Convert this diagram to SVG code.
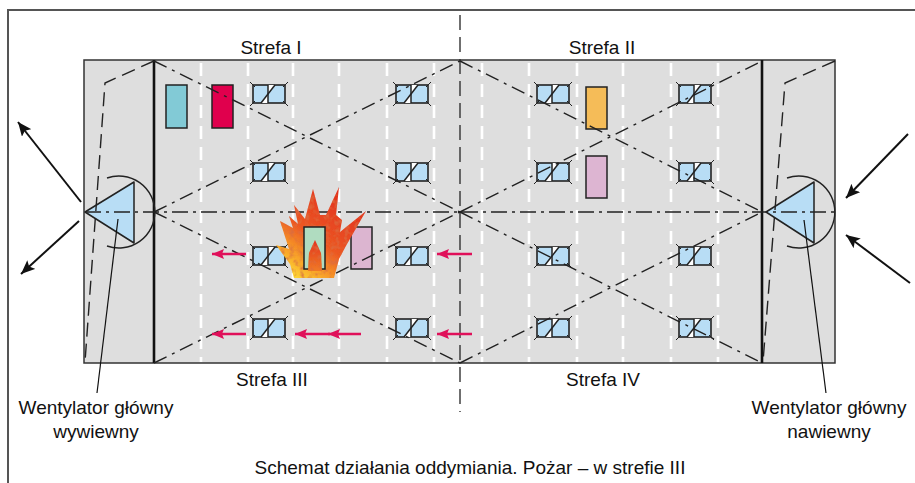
<svg xmlns="http://www.w3.org/2000/svg" width="915" height="483" viewBox="0 0 915 483">
  <style>
    .lbl { font-family: "Liberation Sans", Arial, sans-serif; font-size: 19px; fill: #111; text-anchor: middle; }
    .frame { fill: none; stroke: #555; stroke-width: 2; }
    .hall { fill: #dedede; stroke: #333; stroke-width: 1.5; }
    .wall { stroke: #111; stroke-width: 2.6; }
    .grid { stroke: #fff; stroke-width: 2.6; stroke-dasharray: 13 8; }
    .axis { fill: none; stroke: #222; stroke-width: 1.4; stroke-dasharray: 16 5 3 5; }
    .diag { fill: none; stroke: #222; stroke-width: 1.4; stroke-dasharray: 14 6 3 6; }
    .mid { stroke: #333; stroke-width: 1.4; stroke-dasharray: 15 7; }
    .duct { fill: none; stroke: #222; stroke-width: 1.4; stroke-dasharray: 14 7; }
    .fan { fill: #b8ddf5; stroke: #222; stroke-width: 1.5; stroke-linejoin: round; }
    .arc { fill: none; stroke: #222; stroke-width: 1.4; }
    .lead { stroke: #111; stroke-width: 1.2; }
    .flow { stroke: #111; stroke-width: 2; marker-end: url(#ah); }
    .smoke { stroke: #e0105a; stroke-width: 2.4; }
    .box { stroke: #222; stroke-width: 1.5; }
  </style>
  <defs>
    <marker id="ah" markerUnits="userSpaceOnUse" markerWidth="16" markerHeight="12" refX="14" refY="6" orient="auto">
      <path d="M0,0 L14,6 L0,12 L3,6 z" fill="#111"/>
    </marker>
    <marker id="rh" markerUnits="userSpaceOnUse" markerWidth="14" markerHeight="12" refX="12" refY="5" orient="auto">
      <path d="M0,0 L12,5 L0,10 L2,5 z" fill="#e0105a"/>
    </marker>
    <linearGradient id="flame" x1="0.1" y1="1" x2="0.75" y2="0.1">
      <stop offset="0" stop-color="#ffe83a"/>
      <stop offset="0.22" stop-color="#f9a82a"/>
      <stop offset="0.5" stop-color="#ec5824"/>
      <stop offset="1" stop-color="#e2301e"/>
    </linearGradient>
    <linearGradient id="flame2" x1="0" y1="1" x2="0" y2="0">
      <stop offset="0" stop-color="#f07a26"/>
      <stop offset="1" stop-color="#e23420"/>
    </linearGradient>
    <!-- mottled burn texture inside the flame -->
    <filter id="mottle" x="0" y="0" width="1" height="1">
      <feTurbulence type="fractalNoise" baseFrequency="0.2" numOctaves="2" seed="4" result="n"/>
      <feColorMatrix in="n" type="matrix" values="0 0 0 0 0.7  0 0 0 0 0.15  0 0 0 0 0.05  0 0 0 2.2 -1.0" result="spots"/>
      <feComposite in="spots" in2="SourceAlpha" operator="in" result="clip"/>
      <feMerge><feMergeNode in="SourceGraphic"/><feMergeNode in="clip"/></feMerge>
    </filter>
    <!-- ceiling damper: blue panel with bow-tie flap and corner ticks -->
    <g id="vent">
      <rect x="0" y="0" width="32" height="18" fill="#b8ddf5" stroke="#222" stroke-width="1.6"/>
      <polygon points="8,18 15,18 15,9" fill="#fff"/>
      <polygon points="15,9 15,0 22,0" fill="#fff"/>
      <line x1="15" y1="0" x2="15" y2="18" stroke="#222" stroke-width="1.5"/>
      <line x1="8" y1="18" x2="22" y2="0" stroke="#222" stroke-width="1.5"/>
      <g stroke="#222" stroke-width="1">
        <line x1="-3" y1="-3" x2="2" y2="2"/>
        <line x1="35" y1="-3" x2="30" y2="2"/>
        <line x1="-3" y1="21" x2="2" y2="16"/>
        <line x1="35" y1="21" x2="30" y2="16"/>
      </g>
    </g>
  </defs>

  <!-- page frame -->
  <polyline class="frame" points="8,483 8,10 915,10"/>

  <!-- hall floor plan -->
  <g id="hall">
    <rect class="hall" x="84" y="60" width="751" height="303"/>
    <g id="grid">
      <line class="grid" x1="201" y1="63" x2="201" y2="362"/>
      <line class="grid" x1="248" y1="63" x2="248" y2="362"/>
      <line class="grid" x1="293" y1="63" x2="293" y2="362"/>
      <line class="grid" x1="339" y1="63" x2="339" y2="362"/>
      <line class="grid" x1="387" y1="63" x2="387" y2="362"/>
      <line class="grid" x1="434" y1="63" x2="434" y2="362"/>
      <line class="grid" x1="482" y1="63" x2="482" y2="362"/>
      <line class="grid" x1="529" y1="63" x2="529" y2="362"/>
      <line class="grid" x1="577" y1="63" x2="577" y2="362"/>
      <line class="grid" x1="623" y1="63" x2="623" y2="362"/>
      <line class="grid" x1="671" y1="63" x2="671" y2="362"/>
      <line class="grid" x1="718" y1="63" x2="718" y2="362"/>
    </g>
    <line class="wall" x1="154" y1="60" x2="154" y2="363"/>
    <line class="wall" x1="762" y1="60" x2="762" y2="363"/>
  </g>

  <!-- smoke dampers -->
  <g id="dampers">
    <use href="#vent" x="253" y="85"/>
    <use href="#vent" x="396" y="85"/>
    <use href="#vent" x="537" y="85"/>
    <use href="#vent" x="679" y="85"/>
    <use href="#vent" x="253" y="163"/>
    <use href="#vent" x="396" y="163"/>
    <use href="#vent" x="537" y="163"/>
    <use href="#vent" x="679" y="163"/>
    <use href="#vent" x="253" y="247"/>
    <use href="#vent" x="396" y="247"/>
    <use href="#vent" x="537" y="247"/>
    <use href="#vent" x="679" y="247"/>
    <use href="#vent" x="253" y="319"/>
    <use href="#vent" x="396" y="319"/>
    <use href="#vent" x="537" y="319"/>
    <use href="#vent" x="679" y="319"/>
  </g>

  <!-- equipment -->
  <g id="equipment">
    <rect class="box" x="166" y="85" width="21" height="43" fill="#82cad6"/>
    <rect class="box" x="212" y="85" width="21" height="43" fill="#e0004d"/>
    <rect class="box" x="586" y="87" width="21" height="42" fill="#f5bc58"/>
    <rect class="box" x="586" y="156" width="21" height="42" fill="#ddb5d2"/>
    <rect class="box" x="351" y="227" width="21" height="42" fill="#dcb5d0"/>
  </g>

  <!-- main fans -->
  <g id="fan-exhaust">
    <path class="arc" d="M107,178 A36,36 0 1 1 107,246"/>
    <polygon class="fan" points="85,212 134,182 134,243"/>
  </g>
  <g id="fan-supply">
    <path class="arc" d="M787,178 A36,36 0 1 1 787,246"/>
    <polygon class="fan" points="766,212 814,182 814,243"/>
  </g>

  <!-- connectors -->
  <g id="connectors">
    <!-- ducts to the fans -->
    <polyline class="duct" points="154,61 105,83 85,362"/>
    <polyline class="duct" points="835,61 785,83 763,362"/>
    <!-- zone axes -->
    <line class="mid" x1="460" y1="15" x2="460" y2="412"/>
    <line class="axis" x1="85" y1="212" x2="835" y2="212"/>
    <!-- zone diagonals -->
    <line class="diag" x1="154" y1="61" x2="460" y2="212"/>
    <line class="diag" x1="154" y1="212" x2="460" y2="61"/>
    <line class="diag" x1="154" y1="212" x2="460" y2="363"/>
    <line class="diag" x1="154" y1="363" x2="460" y2="212"/>
    <line class="diag" x1="460" y1="61" x2="762" y2="212"/>
    <line class="diag" x1="460" y1="212" x2="762" y2="61"/>
    <line class="diag" x1="460" y1="212" x2="762" y2="363"/>
    <line class="diag" x1="460" y1="363" x2="762" y2="212"/>
    <!-- air flow at the fans -->
    <line class="flow" x1="81" y1="202" x2="18" y2="122"/>
    <line class="flow" x1="79" y1="221" x2="21" y2="274"/>
    <line class="flow" x1="908" y1="134" x2="846" y2="198"/>
    <line class="flow" x1="910" y1="283" x2="846" y2="235"/>
    <!-- leader lines -->
    <line class="lead" x1="118" y1="219" x2="97" y2="393"/>
    <line class="lead" x1="804" y1="220" x2="826" y2="393"/>
  </g>

  <!-- fire in zone III -->
  <g id="fire">
    <polygon fill="url(#flame)" filter="url(#mottle)" points="294,278 290,264 276,245 289,249 280,221 293,228 289,216 298,224 294,205 305,219 313,189 320,215 326,215 339,187 336,215 342,220 340,232 366,211 347,244 339,259 334,278"/>
    <rect class="box" x="304" y="227" width="21" height="42" fill="#b0dcc0"/>
    <polygon fill="url(#flame2)" filter="url(#mottle)" points="308,271 309,253 315,240 321,253 322,271"/>
  </g>

  <!-- smoke movement -->
  <g id="smoke-flow">
    <line class="smoke" x1="246" y1="254" x2="212" y2="254" marker-end="url(#rh)"/>
    <line class="smoke" x1="472" y1="254" x2="437" y2="254" marker-end="url(#rh)"/>
    <line class="smoke" x1="246" y1="334" x2="212" y2="334" marker-end="url(#rh)"/>
    <line class="smoke" x1="361" y1="334" x2="328" y2="334" marker-end="url(#rh)"/>
    <line class="smoke" x1="330" y1="334" x2="295" y2="334" marker-end="url(#rh)"/>
    <line class="smoke" x1="472" y1="334" x2="437" y2="334" marker-end="url(#rh)"/>
  </g>

  <!-- labels -->
  <g id="labels">
    <text class="lbl" x="271" y="54">Strefa I</text>
    <text class="lbl" x="602" y="54">Strefa II</text>
    <text class="lbl" x="272" y="386">Strefa III</text>
    <text class="lbl" x="603" y="386">Strefa IV</text>
    <text class="lbl" x="96" y="414">Wentylator główny</text>
    <text class="lbl" x="96" y="438">wywiewny</text>
    <text class="lbl" x="829" y="414">Wentylator główny</text>
    <text class="lbl" x="829" y="438">nawiewny</text>
    <text class="lbl" x="470" y="474">Schemat działania oddymiania. Pożar – w strefie III</text>
  </g>
</svg>
